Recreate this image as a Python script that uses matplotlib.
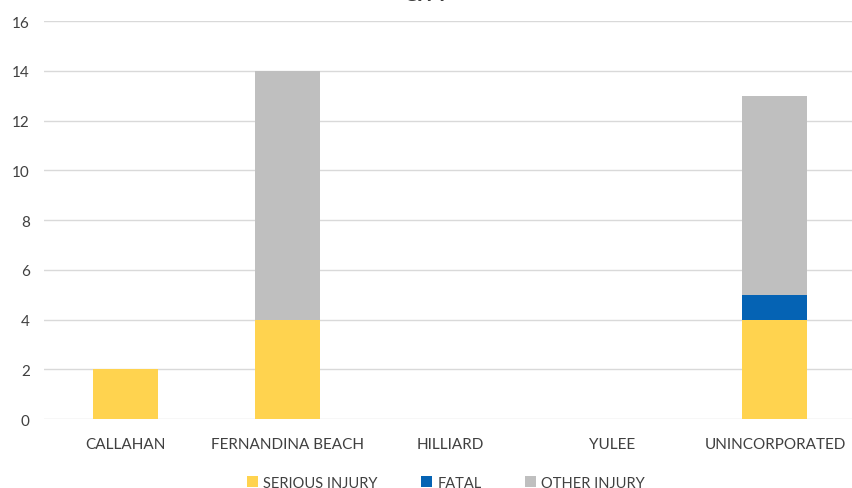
import numpy as np
import matplotlib.pyplot as plt

plt.rcParams['font.family'] = ['Lato', 'DejaVu Sans']

# Daten
cities = ["CALLAHAN", "FERNANDINA BEACH", "HILLIARD", "YULEE", "UNINCORPORATED"]
serious_injury = [2, 4, 0, 0, 4]
fatal = [0, 0, 0, 0, 1]
other_injury = [0, 10, 0, 0, 8]
y_ticks = [0, 2, 4, 6, 8, 10, 12, 14, 16]

col_serious = "#FFD34F"
col_fatal = "#0563B4"
col_other = "#BFBFBF"

fig = plt.figure(figsize=(8.53, 4.89), dpi=100)
ax = fig.add_axes([0.0513, 0.141, 0.9525, 0.814])

x = np.arange(len(cities))
w = 0.4
s = np.array(serious_injury)
f = np.array(fatal)
o = np.array(other_injury)

ax.bar(x, s, w, color=col_serious, label="SERIOUS INJURY", zorder=3)
ax.bar(x, f, w, bottom=s, color=col_fatal, label="FATAL", zorder=3)
ax.bar(x, o, w, bottom=s + f, color=col_other, label="OTHER INJURY", zorder=3)

ax.set_xlim(-0.5, len(cities) - 0.5)
ax.set_ylim(0, 16)
ax.set_yticks(y_ticks)
ax.set_xticks(x)
ax.set_xticklabels(cities)
ax.grid(axis="y", color="#D9D9D9", linewidth=1, zorder=0)
for sp in ax.spines.values():
    sp.set_visible(False)
ax.tick_params(axis="both", length=0, labelsize=11, colors="#404040")
ax.tick_params(axis="x", pad=13)
ax.tick_params(axis="y", pad=10)

# Titel ist oben abgeschnitten (wie im Original)
fig.text(0.5, 0.99, "CITY", ha="center", va="bottom", fontsize=15,
         fontweight="bold", color="#404040")

fig.legend(loc="lower center", ncol=3, bbox_to_anchor=(0.523, -0.03),
           frameon=False, fontsize=10.5, handlelength=0.75, handleheight=0.75,
           columnspacing=3.0, handletextpad=0.35, labelcolor="#404040")

fig.savefig("out.png", dpi=100)
